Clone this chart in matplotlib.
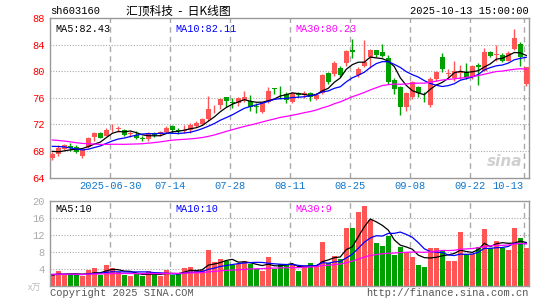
import numpy as np
import matplotlib
matplotlib.use("Agg")
import matplotlib.pyplot as plt
import matplotlib.transforms as mtransforms

# trading days shown, 2025-06-16 .. 2025-10-13
dates = ["06-16", "06-17", "06-18", "06-19", "06-20", "06-23", "06-24", "06-25", "06-26", "06-27",
         "06-30", "07-01", "07-02", "07-03", "07-04", "07-07", "07-08", "07-09", "07-10", "07-11",
         "07-14", "07-15", "07-16", "07-17", "07-18", "07-21", "07-22", "07-23", "07-24", "07-25",
         "07-28", "07-29", "07-30", "07-31", "08-01", "08-04", "08-05", "08-06", "08-07", "08-08",
         "08-11", "08-12", "08-13", "08-14", "08-15", "08-18", "08-19", "08-20", "08-21", "08-22",
         "08-25", "08-26", "08-27", "08-28", "08-29", "09-01", "09-02", "09-03", "09-04", "09-05",
         "09-08", "09-09", "09-10", "09-11", "09-12", "09-15", "09-16", "09-17", "09-18", "09-19",
         "09-22", "09-23", "09-24", "09-25", "09-26", "09-29", "09-30", "10-09", "10-10", "10-13"]

opens = [66.9, 67.6, 68.3, 68.8, 68.6, 67.25, 68.65, 70.05, 70.75, 70.3,
         71.3, 71.35, 71.15, 70.5, 70.4, 70.0, 69.75, 70.7, 70.5, 70.8,
         71.75, 71.15, 71.0, 71.15, 71.75, 72.1, 72.8, 74.3, 75.0, 76.1,
         75.3, 75.3, 75.65, 75.5, 74.8, 73.9, 75.4, 77.45, 77.1, 76.65,
         75.35, 76.8, 76.5, 76.7, 75.9, 76.7, 79.7, 79.6, 80.5, 81.2,
         83.2, 79.4, 80.85, 82.2, 83.15, 82.95, 82.0, 78.75, 77.6, 74.7,
         76.2, 77.6, 76.0, 75.0, 78.85, 82.1, 79.65, 79.0, 79.7, 79.85,
         79.1, 80.95, 80.1, 82.85, 82.45, 82.5, 81.6, 83.35, 84.2, 78.1]
closes = [67.6, 68.5, 68.9, 68.5, 67.8, 68.1, 70.0, 70.75, 70.0, 71.2,
          71.35, 71.4, 70.4, 70.75, 69.9, 69.75, 70.65, 70.4, 70.8, 71.5,
          71.1, 71.05, 71.2, 71.9, 72.25, 72.8, 74.3, 74.4, 75.8, 75.5,
          75.25, 76.0, 76.1, 74.65, 74.7, 75.3, 77.1, 77.35, 77.0, 75.65,
          76.7, 76.5, 76.8, 76.1, 76.5, 79.4, 78.45, 81.3, 79.4, 83.05,
          82.85, 80.3, 81.35, 83.2, 82.45, 82.3, 78.4, 77.3, 74.7, 76.7,
          78.35, 76.7, 75.95, 78.85, 79.85, 80.35, 79.8, 80.1, 79.95, 79.0,
          80.85, 80.6, 82.85, 82.35, 82.55, 81.5, 82.7, 85.1, 82.1, 80.6]
highs = [67.9, 68.9, 69.1, 69.25, 68.9, 68.25, 70.15, 70.9, 70.9, 71.4,
         72.0, 71.75, 71.25, 70.95, 71.0, 70.3, 70.8, 70.8, 71.0, 71.75,
         71.9, 71.5, 71.9, 72.25, 72.5, 73.0, 76.3, 75.0, 76.0, 76.1,
         76.0, 76.15, 77.0, 76.4, 75.3, 75.4, 77.7, 77.5, 77.8, 76.9,
         76.85, 76.95, 77.1, 76.9, 76.75, 79.6, 79.85, 81.5, 80.8, 83.2,
         84.9, 80.6, 84.75, 83.4, 83.2, 84.1, 82.4, 79.0, 77.8, 76.9,
         78.6, 77.85, 76.85, 79.1, 80.1, 82.7, 80.35, 81.6, 80.9, 81.2,
         81.0, 81.2, 83.5, 83.0, 84.0, 82.7, 83.0, 86.35, 84.5, 80.7]
lows = [66.65, 67.3, 68.1, 68.05, 67.65, 66.9, 68.5, 69.55, 69.9, 70.2,
        70.9, 70.9, 70.3, 70.05, 69.75, 69.5, 69.5, 70.15, 70.2, 70.65,
        70.65, 70.5, 70.65, 70.65, 71.55, 71.9, 72.5, 73.65, 74.3, 74.65,
        74.5, 74.8, 75.4, 74.0, 73.65, 73.75, 75.3, 76.6, 75.9, 75.3,
        75.2, 76.1, 76.0, 75.6, 75.75, 76.6, 78.1, 79.3, 79.2, 80.8,
        82.0, 79.1, 80.6, 80.5, 82.1, 82.2, 78.1, 76.6, 73.4, 74.0,
        75.9, 76.1, 75.35, 74.6, 78.5, 79.9, 79.1, 78.6, 78.9, 78.85,
        78.9, 78.0, 80.0, 82.2, 81.6, 81.35, 81.5, 83.2, 80.85, 77.8]
# volume, 万手
volumes = [2.7, 3.4, 2.7, 2.6, 2.6, 2.3, 3.6, 4.1, 2.6, 4.8,
           4.1, 3.2, 2.5, 2.3, 2.9, 2.4, 3.4, 2.5, 2.2, 3.8,
           2.6, 3.1, 4.2, 4.5, 3.4, 3.6, 8.5, 5.5, 6.2, 5.9,
           4.9, 5.2, 5.9, 5.2, 4.0, 3.4, 6.8, 4.0, 5.2, 5.2,
           4.8, 3.4, 4.4, 5.4, 4.8, 10.3, 5.4, 7.1, 6.2, 13.5,
           13.5, 17.3, 18.8, 15.4, 10.1, 9.4, 11.7, 7.3, 9.2, 8.0,
           6.7, 4.8, 4.3, 8.8, 8.8, 8.5, 5.9, 5.9, 12.7, 7.2,
           7.5, 9.2, 13.3, 8.8, 10.5, 8.8, 8.5, 13.5, 11.2, 8.8]

# the 29 sessions before the window, only needed for the moving averages
prev_close = [71.0, 71.5, 72.0, 71.8, 71.2, 71.6, 72.1, 71.7, 71.0, 70.9, 71.3, 70.7,
              69.9, 69.2, 68.6, 68.1, 67.8, 67.5, 67.4, 67.6,
              68.8, 69.5, 69.9, 69.6, 69.45, 68.9, 68.2, 67.7, 67.35]
prev_vol = [3.1, 2.8, 2.5, 2.9, 3.0, 2.6, 2.4, 2.7, 3.2, 2.9, 2.6, 2.5, 2.8, 3.0, 2.7,
            2.6, 2.9, 2.4, 2.5, 2.8, 2.7, 2.6, 2.9, 2.8, 2.4, 2.5, 2.6, 2.3, 2.5]

tick_idx = [10, 20, 30, 40, 50, 60, 70, 79]
price_ticks = [64, 68, 72, 76, 80, 84, 88]
vol_ticks = [4, 8, 12, 16, 20]

RED = "#ff5555"
GREEN = "#00a000"
MONO = "Liberation Mono"
CJK = ["Noto Sans CJK SC", "DejaVu Sans"]


def moving_avg(prev, vals, n):
    allv = np.array(prev + vals, dtype=float)
    out = np.convolve(allv, np.ones(n) / n, mode="valid")
    return out[-len(vals):]


n = len(closes)
x = np.arange(n)
o = np.array(opens)
c = np.array(closes)
colors = [RED if c[i] >= o[i] else GREEN for i in range(n)]

fig = plt.figure(figsize=(5.45, 3.0), dpi=100)
fig.patch.set_facecolor("white")

W, H = 545.0, 300.0
ax = fig.add_axes([50 / W, 1 - 177.5 / H, 479.3 / W, 159.2 / H])
axv = fig.add_axes([50 / W, 1 - 285.7 / H, 479.3 / W, 85.0 / H])

for a in (ax, axv):
    a.set_xlim(-0.38, 79.5)
    for s in a.spines.values():
        s.set_color("#999999")
        s.set_linewidth(1.0)
    a.tick_params(length=0)
    a.set_xticks([])
    for t in tick_idx:
        a.axvline(t - 0.3, color="#aaaaaa", lw=1.0, ls=(0, (4, 3)), zorder=0)

# price panel
ax.set_ylim(64, 88)
for p in price_ticks[1:-1]:
    ax.axhline(p, color="#aaaaaa", lw=0.8, ls=(0, (1, 1.5)), zorder=0)
ax.set_yticks(price_ticks)
ax.set_yticklabels([str(p) for p in price_ticks], color="red", fontsize=7.5, family=MONO)
ax.tick_params(axis="y", pad=4)

ax.vlines(x, lows, highs, colors=colors, lw=1.0, zorder=2)
body = np.maximum(np.abs(c - o), 0.07)
ax.bar(x, body, bottom=np.minimum(o, c), width=0.78, color=colors, zorder=3)

ax.plot(x, moving_avg(prev_close, closes, 5), color="black", lw=0.9, zorder=4)
ax.plot(x, moving_avg(prev_close, closes, 10), color="blue", lw=0.9, zorder=4)
ax.plot(x, moving_avg(prev_close, closes, 30), color="#ff00ff", lw=0.9, zorder=4)

ax.text(0.012, 0.965, "MA5:82.43", transform=ax.transAxes, color="black",
        fontsize=7.3, family=MONO, va="top")
ax.text(0.262, 0.965, "MA10:82.11", transform=ax.transAxes, color="blue",
        fontsize=7.3, family=MONO, va="top")
ax.text(0.512, 0.965, "MA30:80.23", transform=ax.transAxes, color="#ff00ff",
        fontsize=7.3, family=MONO, va="top")
ax.text(0.985, 0.1, "sina", transform=ax.transAxes, color="#d0d0d0", fontsize=11,
        fontweight="bold", style="italic", ha="right", va="center", family="DejaVu Sans")

trans = mtransforms.blended_transform_factory(ax.transData, ax.transAxes)
for t in tick_idx:
    lab = ("2025-" + dates[t]) if t == 10 else dates[t]
    ha = "right" if t == tick_idx[-1] else "center"
    xt = t - 0.3 if ha == "center" else t - 0.5
    ax.text(xt, -0.055, lab, transform=trans, color="#1177cc", fontsize=7.5,
            family=MONO, ha=ha, va="center")

# volume panel
axv.set_ylim(0, 20)
for v in vol_ticks[:-1]:
    axv.axhline(v, color="#aaaaaa", lw=0.8, ls=(0, (1, 1.5)), zorder=0)
axv.set_yticks(vol_ticks)
axv.set_yticklabels([str(v) for v in vol_ticks], color="#aaaaaa", fontsize=7.5, family=MONO)
axv.tick_params(axis="y", pad=4)
axv.bar(x, volumes, width=0.8, color=colors, zorder=2)
axv.plot(x, moving_avg(prev_vol, volumes, 5), color="black", lw=0.9, zorder=3)
axv.plot(x, moving_avg(prev_vol, volumes, 10), color="blue", lw=0.9, zorder=3)
axv.plot(x, moving_avg(prev_vol, volumes, 30), color="#ff00ff", lw=0.9, zorder=3)

axv.text(0.012, 0.96, "MA5:10", transform=axv.transAxes, color="black",
         fontsize=7.3, family=MONO, va="top")
axv.text(0.262, 0.96, "MA10:10", transform=axv.transAxes, color="blue",
         fontsize=7.3, family=MONO, va="top")
axv.text(0.512, 0.96, "MA30:9", transform=axv.transAxes, color="#ff00ff",
         fontsize=7.3, family=MONO, va="top")

# header / footer
fig.text(50 / W, 1 - 11 / H, "sh603160", color="black", fontsize=7.5, family=MONO,
         ha="left", va="center")
fig.text(178 / W, 1 - 11 / H, "汇顶科技  -  日K线图", color="black", fontsize=8.5,
         family=CJK, ha="center", va="center")
fig.text(529 / W, 1 - 11 / H, "2025-10-13 15:00:00", color="black", fontsize=7.5,
         family=MONO, ha="right", va="center")
fig.text(28 / W, 1 - 288 / H, "x万", color="#bbbbbb", fontsize=6.5,
         family=CJK, ha="left", va="center")
fig.text(50 / W, 1 - 293 / H, "Copyright 2025 SINA.COM", color="#555555", fontsize=7.5,
         family=MONO, ha="left", va="center")
fig.text(529 / W, 1 - 293 / H, "http://finance.sina.com.cn", color="#555555", fontsize=7.5,
         family=MONO, ha="right", va="center")

fig.savefig("out.png", dpi=100, facecolor="white")
